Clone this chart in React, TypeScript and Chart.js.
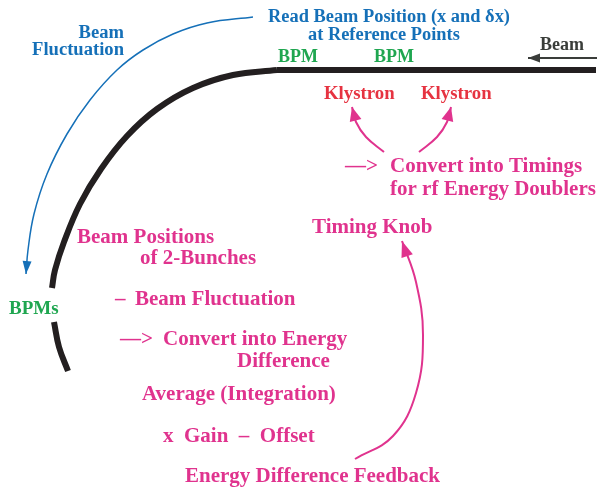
import React, { useEffect, useRef } from "react";
import { Chart, registerables } from "chart.js";

Chart.register(...registerables);

// ---- geometry (diagram coordinates: x 0..600, y 0..489 downward) ----
const beamStraight = [
  { x: 596, y: 70 },
  { x: 277, y: 70 },
];
const beamCurveUpper = [
  { x: 277, y: 70 },
  { x: 233, y: 75 },
  { x: 193, y: 88 },
  { x: 157, y: 109 },
  { x: 127, y: 136 },
  { x: 101, y: 169 },
  { x: 80, y: 204 },
  { x: 64, y: 242 },
  { x: 55, y: 270 },
  { x: 52, y: 288 },
];
const beamCurveLower = [
  { x: 54, y: 322 },
  { x: 59, y: 347 },
  { x: 68, y: 371 },
];
const fluctuationArc = [
  { x: 253, y: 17 },
  { x: 207, y: 23 },
  { x: 173, y: 34 },
  { x: 143, y: 50 },
  { x: 117, y: 70 },
  { x: 90, y: 100 },
  { x: 67, y: 134 },
  { x: 47, y: 174 },
  { x: 34, y: 214 },
  { x: 28, y: 250 },
  { x: 26, y: 274 },
];
const klystronArrowLeft = [
  { x: 384, y: 152 },
  { x: 366, y: 137 },
  { x: 356, y: 122 },
  { x: 352, y: 107 },
];
const klystronArrowRight = [
  { x: 419, y: 152 },
  { x: 437, y: 137 },
  { x: 447, y: 122 },
  { x: 451, y: 107 },
];
const timingKnobArrow = [
  { x: 355, y: 459 },
  { x: 393, y: 436 },
  { x: 416, y: 393 },
  { x: 423, y: 335 },
  { x: 416, y: 282 },
  { x: 402, y: 241 },
];
const beamArrow = [
  { x: 597, y: 58 },
  { x: 528, y: 58 },
];

// ---- labels ----
const labelTexts = [
  "Read Beam Position (x and δx)",
  "at Reference Points",
  "Beam",
  "BPM",
  "BPM",
  "Klystron",
  "Klystron",
  "—>",
  "Convert into Timings",
  "for rf Energy Doublers",
  "Timing Knob",
  "Beam",
  "Fluctuation",
  "Beam Positions",
  "of 2-Bunches",
  "BPMs",
  "–",
  "Beam Fluctuation",
  "—>",
  "Convert into Energy",
  "Difference",
  "Average (Integration)",
  "x  Gain  –  Offset",
  "Energy Difference Feedback",
];
const labelX = [268, 308, 540, 278, 374, 324, 421, 345, 390, 390, 312, 124, 124, 77, 140, 9, 115, 135, 120, 163, 237, 142, 163, 185];
const labelY = [22, 40, 50, 62, 62, 99, 99, 172, 172, 195, 233, 38, 55, 243, 264, 314, 305, 305, 345, 345, 367, 400, 442, 482];
const labelSize = [18.4, 18.4, 18, 18, 18, 18.8, 18.8, 21, 21, 21, 21, 18.6, 18.6, 21, 21, 19, 21, 21, 21, 21, 21, 21, 21, 21];
const labelColor = ["blue", "blue", "gray", "green", "green", "red", "red", "pink", "pink", "pink", "pink", "blue", "blue", "pink", "pink", "green", "pink", "pink", "pink", "pink", "pink", "pink", "pink", "pink"];
const labelAlign = ["left", "left", "left", "left", "left", "left", "left", "left", "left", "left", "left", "right", "right", "left", "left", "left", "left", "left", "left", "left", "left", "left", "left", "left"];

const COLORS: Record<string, string> = {
  blue: "#1570b8",
  green: "#1fa650",
  red: "#e63341",
  pink: "#e0338e",
  gray: "#3a3d3a",
  black: "#231f20",
};

const arrowPlugin = {
  id: "arrowHeads",
  afterDatasetsDraw(chart: any) {
    const ctx = chart.ctx;
    chart.data.datasets.forEach((ds: any, i: number) => {
      if (!ds.arrow) return;
      const meta = chart.getDatasetMeta(i);
      const pts = meta.data;
      const last = pts[pts.length - 1];
      const prev = pts[pts.length - 2];
      let bx = prev.x;
      let by = prev.y;
      if (last.cp1x !== undefined && ds.tension > 0) {
        bx = last.cp1x;
        by = last.cp1y;
      }
      const ang = Math.atan2(last.y - by, last.x - bx);
      const L = ds.arrow.len;
      const W = ds.arrow.wid / 2;
      ctx.save();
      ctx.fillStyle = ds.borderColor;
      ctx.beginPath();
      ctx.moveTo(last.x, last.y);
      ctx.lineTo(last.x - L * Math.cos(ang) - W * Math.sin(ang), last.y - L * Math.sin(ang) + W * Math.cos(ang));
      ctx.lineTo(last.x - L * Math.cos(ang) + W * Math.sin(ang), last.y - L * Math.sin(ang) - W * Math.cos(ang));
      ctx.closePath();
      ctx.fill();
      ctx.restore();
    });
  },
  afterDraw(chart: any) {
    const ctx = chart.ctx;
    const xs = chart.scales.x;
    const ys = chart.scales.y;
    ctx.save();
    ctx.textBaseline = "alphabetic";
    labelTexts.forEach((t, i) => {
      ctx.font = `bold ${labelSize[i]}px "Liberation Serif", "DejaVu Serif", serif`;
      ctx.fillStyle = COLORS[labelColor[i]];
      ctx.textAlign = labelAlign[i];
      ctx.fillText(t, xs.getPixelForValue(labelX[i]), ys.getPixelForValue(labelY[i]));
    });
    ctx.restore();
  },
};

const line = (data: any[], color: string, width: number, tension: number, arrow?: any) => ({
  data,
  borderColor: color,
  backgroundColor: color,
  borderWidth: width,
  tension,
  pointRadius: 0,
  fill: false,
  showLine: true,
  borderCapStyle: "butt",
  arrow,
});

export default function App() {
  const ref = useRef<HTMLCanvasElement>(null);
  useEffect(() => {
    document.body.style.margin = "0";
    const chart = new Chart(ref.current as HTMLCanvasElement, {
      type: "scatter",
      data: {
        datasets: [
          line(beamStraight, COLORS.black, 6, 0),
          line(beamCurveUpper, COLORS.black, 6, 0.4),
          line(beamCurveLower, COLORS.black, 6, 0.4),
          line(fluctuationArc, COLORS.blue, 1.5, 0.4, { len: 13, wid: 9 }),
          line(klystronArrowLeft, COLORS.pink, 2, 0.4, { len: 14, wid: 12 }),
          line(klystronArrowRight, COLORS.pink, 2, 0.4, { len: 14, wid: 12 }),
          line(timingKnobArrow, COLORS.pink, 2, 0.4, { len: 16, wid: 12 }),
          line(beamArrow, COLORS.gray, 2, 0, { len: 12, wid: 9 }),
        ] as any,
      },
      options: {
        animation: false,
        responsive: true,
        maintainAspectRatio: false,
        layout: { padding: 0 },
        plugins: { legend: { display: false }, tooltip: { enabled: false } },
        scales: {
          x: { type: "linear", min: 0, max: 600, display: false },
          y: { type: "linear", min: 0, max: 489, reverse: true, display: false },
        },
      } as any,
      plugins: [arrowPlugin],
    });
    return () => chart.destroy();
  }, []);
  return (
    <div style={{ position: "absolute", left: 0, top: 0, width: 600, height: 489, background: "#fff" }}>
      <canvas ref={ref} />
    </div>
  );
}
